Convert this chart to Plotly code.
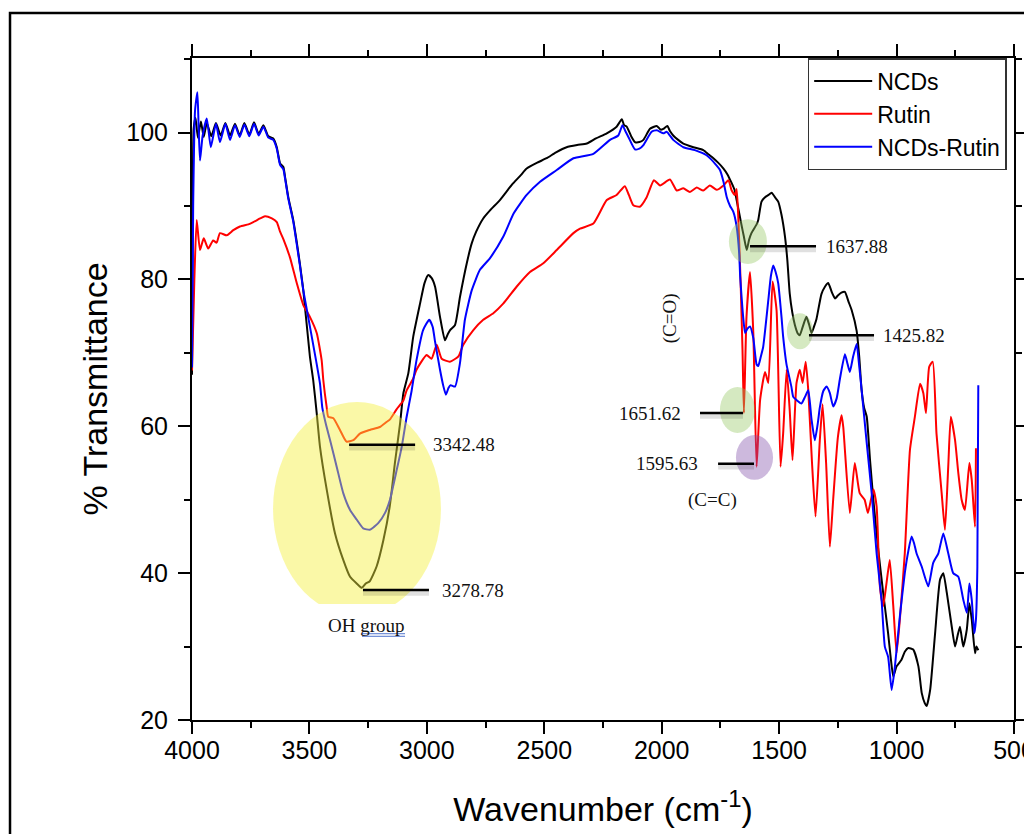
import plotly.graph_objects as go

# ---------------- data ----------------
NCDS_WN = [4000, 3997, 3993, 3985, 3975, 3962, 3950, 3937, 3918, 3898,
           3878, 3858, 3838, 3817, 3797, 3777, 3756, 3736, 3716, 3696,
           3675, 3654, 3639, 3625, 3611, 3604, 3590, 3569, 3555, 3541,
           3526, 3498, 3484, 3469, 3455, 3426, 3391, 3356, 3327, 3299,
           3277, 3260, 3243, 3214, 3185, 3158, 3136, 3114, 3100, 3079,
           3058, 3029, 3010, 2994, 2980, 2965, 2944, 2923, 2910, 2901,
           2880, 2859, 2830, 2809, 2790, 2760, 2731, 2689, 2660, 2632,
           2600, 2575, 2530, 2490, 2450, 2405, 2360, 2319, 2280, 2234,
           2192, 2170, 2160, 2149, 2130, 2114, 2095, 2078, 2050, 2021,
           2005, 1993, 1976, 1965, 1951, 1930, 1908, 1865, 1823, 1800,
           1780, 1760, 1737, 1720, 1702, 1690, 1681, 1670, 1659, 1650,
           1638, 1628, 1618, 1596, 1589, 1575, 1560, 1545, 1532, 1518,
           1504, 1490, 1475, 1465, 1455, 1444, 1433, 1420, 1412, 1400,
           1384, 1372, 1362, 1350, 1341, 1320, 1305, 1291, 1275, 1262,
           1250, 1235, 1220, 1205, 1191, 1170, 1159, 1149, 1138, 1127,
           1113, 1099, 1078, 1057, 1036, 1025, 1014, 1000, 979, 965,
           950, 929, 907, 893, 880, 872, 857, 836, 815, 801,
           786, 765, 751, 740, 730, 716, 701, 690, 680, 666,
           660, 652]
NCDS_T = [67, 90, 100.5, 102.0, 99.3, 101.5, 99.4, 101.3, 99.5, 101.3,
          99.6, 101.3, 99.6, 101.2, 99.6, 101.3, 99.7, 101.4, 99.8, 101.0,
          99.5, 99.2, 98.0, 95.8, 95.3, 94.0, 91.2, 88.1, 85.3, 82.2,
          78.5, 69.5, 66.3, 61.8, 57.2, 51.3, 45.4, 41.8, 39.5, 38.6,
          38.0, 38.6, 38.9, 40.9, 44.5, 49.1, 55.0, 60.4, 64.5, 67.2,
          72.2, 76.7, 79.5, 80.6, 80.2, 79.0, 74.9, 71.7, 72.6, 73.1,
          73.8, 77.6, 82.2, 84.9, 86.5, 88.3, 89.4, 90.8, 92.0, 93.1,
          94.2, 95.1, 95.9, 96.5, 97.3, 98.0, 98.3, 98.5, 99.2, 99.9,
          100.8, 101.8, 101.0, 100.8, 99.5, 98.7, 98.7, 99.0, 100.5, 100.9,
          100.4, 100.5, 100.9, 100.2, 99.6, 99.0, 98.5, 98.0, 97.6, 97.0,
          96.5, 95.9, 95.1, 94.3, 93.1, 92.2, 90.8, 89.0, 87.2, 85.8,
          84.0, 85.4, 86.3, 87.5, 88.1, 90.6, 91.2, 91.5, 91.8, 91.2,
          90.6, 88.8, 85.8, 82.6, 78.1, 75.5, 73.8, 72.6, 72.4, 73.5,
          74.9, 73.8, 72.7, 73.7, 74.6, 78.0, 79.0, 79.5, 78.2, 77.4,
          77.8, 78.2, 78.3, 77.0, 75.8, 73.0, 69.5, 65.0, 62.5, 61.3,
          55.4, 50.0, 43.2, 37.3, 31.8, 28.5, 25.9, 27.3, 28.2, 29.3,
          29.8, 29.6, 27.3, 23.7, 22.3, 21.9, 24.1, 31.8, 39.1, 40.0,
          37.3, 32.7, 30.0, 31.5, 32.7, 30.0, 32.3, 35.9, 33.7, 29.1,
          30.0, 29.5]

RUTIN_WN = [4000, 3990, 3980, 3966, 3950, 3931, 3910, 3895, 3881, 3852,
            3824, 3796, 3760, 3739, 3710, 3689, 3660, 3639, 3625, 3611,
            3583, 3554, 3526, 3498, 3469, 3448, 3441, 3427, 3420, 3398,
            3370, 3342, 3313, 3285, 3243, 3200, 3171, 3158, 3129, 3100,
            3086, 3058, 3044, 3001, 2980, 2958, 2937, 2902, 2866, 2845,
            2802, 2760, 2717, 2675, 2618, 2561, 2504, 2447, 2376, 2348,
            2291, 2234, 2192, 2157, 2140, 2121, 2093, 2064, 2033, 2007,
            1965, 1936, 1908, 1880, 1851, 1823, 1795, 1766, 1737, 1716,
            1702, 1688, 1681, 1674, 1664, 1656, 1650, 1639, 1624, 1610,
            1596, 1581, 1560, 1546, 1528, 1511, 1494, 1483, 1468, 1455,
            1443, 1426, 1412, 1400, 1387, 1376, 1360, 1345, 1327, 1315,
            1300, 1284, 1270, 1250, 1234, 1227, 1199, 1178, 1157, 1136,
            1122, 1099, 1085, 1071, 1057, 1043, 1029, 1014, 1000, 986,
            965, 943, 922, 900, 886, 875, 861, 846, 830, 808,
            794, 780, 769, 751, 737, 723, 709, 690, 680, 666,
            662]
RUTIN_T = [67.6, 80, 88.1, 84.0, 85.6, 84.2, 85.3, 85.0, 86.3, 86.0,
           86.7, 87.2, 87.5, 87.8, 88.3, 88.6, 88.3, 87.8, 86.5, 85.5,
           83.0, 79.5, 76.5, 74.9, 72.7, 69.0, 66.3, 62.7, 61.3, 61.1,
           59.5, 57.9, 58.1, 59.0, 59.5, 59.9, 60.6, 60.9, 62.3, 63.5,
           64.9, 66.5, 67.7, 69.7, 69.2, 71.1, 69.2, 68.8, 69.5, 71.1,
           73.1, 74.5, 75.4, 76.7, 79.0, 81.0, 82.2, 84.0, 86.3, 86.9,
           87.6, 90.8, 91.5, 92.7, 91.5, 90.1, 89.9, 91.2, 93.5, 92.8,
           93.6, 92.1, 92.4, 91.9, 92.5, 92.1, 92.8, 92.2, 92.8, 93.5,
           92.1, 91.5, 92.3, 88.5, 79.5, 70.4, 61.8, 74.9, 81.0, 72.7,
           54.5, 63.6, 67.4, 65.9, 79.7, 75.8, 54.5, 59.0, 67.7, 62.2,
           55.4, 65.9, 67.7, 65.9, 68.8, 64.9, 55.0, 47.7, 58.0, 63.0,
           55.0, 43.6, 50.0, 58.5, 61.5, 59.9, 48.2, 55.0, 50.9, 50.0,
           48.2, 51.4, 49.1, 38.2, 35.5, 38.6, 41.8, 35.5, 29.1, 33.7,
           42.7, 56.8, 61.3, 65.8, 64.5, 61.8, 68.1, 68.8, 59.0, 50.9,
           45.9, 54.5, 61.3, 58.1, 53.6, 50.0, 48.6, 55.0, 52.7, 46.3,
           57.0]

MIX_WN = [4000, 3995, 3987, 3977, 3972, 3966, 3955, 3937, 3920, 3898,
          3881, 3858, 3838, 3817, 3797, 3777, 3756, 3736, 3716, 3696,
          3675, 3654, 3639, 3625, 3611, 3604, 3590, 3569, 3555, 3541,
          3526, 3506, 3472, 3455, 3445, 3430, 3412, 3384, 3356, 3327,
          3299, 3271, 3243, 3225, 3207, 3178, 3157, 3128, 3107, 3086,
          3065, 3044, 3016, 2990, 2975, 2966, 2944, 2930, 2919, 2908,
          2899, 2880, 2859, 2838, 2809, 2774, 2731, 2675, 2630, 2575,
          2518, 2447, 2376, 2291, 2220, 2185, 2167, 2155, 2142, 2114,
          2095, 2078, 2043, 2021, 1993, 1979, 1951, 1908, 1859, 1809,
          1766, 1752, 1737, 1723, 1709, 1695, 1681, 1670, 1666, 1659,
          1652, 1645, 1635, 1624, 1610, 1596, 1589, 1578, 1568, 1546,
          1535, 1525, 1515, 1504, 1490, 1483, 1469, 1448, 1440, 1427,
          1405, 1390, 1376, 1362, 1348, 1335, 1327, 1312, 1298, 1284,
          1270, 1255, 1241, 1220, 1209, 1199, 1185, 1170, 1160, 1149,
          1127, 1106, 1085, 1064, 1050, 1036, 1021, 1007, 986, 965,
          950, 936, 925, 915, 893, 865, 844, 822, 801, 780,
          759, 737, 716, 701, 690, 680, 669, 662, 656, 652]
MIX_T = [68, 90, 103, 105.5, 101, 96.2, 99.5, 101.9, 98.0, 101.2,
         98.7, 101.2, 99.0, 101.0, 99.4, 101.1, 99.5, 101.2, 99.6, 100.8,
         99.3, 99.0, 97.8, 95.6, 95.0, 93.8, 91.0, 87.9, 85.0, 82.0,
         78.5, 75.0, 69.0, 65.8, 62.5, 60.3, 58.1, 54.5, 50.9, 48.6,
         47.3, 46.1, 45.9, 46.3, 46.8, 48.2, 50.0, 54.1, 57.2, 61.3,
         64.8, 69.0, 73.1, 74.5, 73.5, 71.7, 67.7, 65.5, 64.3, 65.2,
         65.6, 65.4, 68.6, 74.5, 78.5, 81.3, 82.9, 85.8, 89.0, 91.5,
         93.3, 94.9, 96.5, 97.1, 99.0, 99.6, 101.0, 100.2, 99.4, 97.7,
         97.8, 98.3, 100.1, 100.3, 99.9, 100.1, 99.0, 98.0, 97.6, 96.9,
         95.5, 94.9, 93.3, 91.2, 90.0, 89.2, 87.2, 83.5, 80.4, 77.2,
         74.5, 72.7, 73.3, 73.6, 72.0, 68.4, 68.2, 69.5, 70.8, 77.2,
         80.5, 81.9, 81.0, 79.5, 74.9, 72.2, 68.5, 65.4, 64.0, 63.6,
         63.1, 64.0, 64.9, 60.9, 58.1, 60.5, 62.5, 64.8, 65.4, 64.5,
         62.7, 63.8, 66.5, 69.8, 68.5, 67.4, 69.5, 71.2, 68.5, 65.0,
         57.7, 50.9, 42.7, 36.4, 30.0, 28.6, 24.1, 27.3, 34.1, 40.0,
         43.0, 45.0, 44.0, 42.7, 40.9, 38.2, 41.4, 42.7, 45.4, 42.7,
         40.0, 39.5, 36.4, 34.6, 38.6, 36.4, 31.8, 33.7, 40.9, 65.6]

SERIES_NAMES = ["NCDs", "Rutin", "NCDs-Rutin"]
SERIES_COLORS = ["#000000", "#ff0000", "#0000ff"]

X_TICKS = [4000, 3500, 3000, 2500, 2000, 1500, 1000, 500]
Y_TICKS = [20, 40, 60, 80, 100]

# peak labels: (label, line x0, line x1, line y, text x, text anchor)
PEAK_LABELS = [
    ("3342.48", 3331, 3050, 57.5, 2982, "left"),
    ("3278.78", 3272, 2991, 37.7, 2944, "left"),
    ("1637.88", 1624, 1343, 84.5, 1309, "left"),
    ("1425.82", 1373, 1096, 72.4, 1066, "left"),
    ("1651.62", 1837, 1654, 61.8, 1909, "right"),
    ("1595.63", 1760, 1607, 54.9, 1837, "right"),
]

SANS = "Liberation Sans, Arial, sans-serif"
SERIF = "Liberation Serif, Times New Roman, serif"

assert len(NCDS_WN) == len(NCDS_T)
assert len(RUTIN_WN) == len(RUTIN_T)
assert len(MIX_WN) == len(MIX_T)

fig = go.Figure()
for name, xs, ys, col in zip(SERIES_NAMES,
                             [NCDS_WN, RUTIN_WN, MIX_WN],
                             [NCDS_T, RUTIN_T, MIX_T],
                             SERIES_COLORS):
    fig.add_trace(go.Scatter(x=xs, y=ys, mode="lines", name=name,
                             line=dict(color=col, width=2, shape="spline", smoothing=0.5)))

shapes = []
# highlight ellipses (semi-transparent, drawn above the spectra)
shapes.append(dict(type="circle", xref="x", yref="y", x0=3655, x1=2940, y0=34.2, y1=63.3,
                   fillcolor="rgba(245,240,60,0.45)", line=dict(width=0), layer="above"))
shapes.append(dict(type="rect", xref="x", yref="y", x0=3470, x1=3010, y0=33.0, y1=35.8,
                   fillcolor="white", line=dict(width=0), layer="above"))
for (x0, x1, y0, y1, col) in [
    (1714, 1552, 82.1, 88.2, "rgba(150,200,100,0.4)"),
    (1467, 1356, 70.5, 75.4, "rgba(150,200,100,0.4)"),
    (1752, 1603, 59.1, 65.35, "rgba(150,200,100,0.4)"),
    (1684, 1526, 52.7, 58.8, "rgba(130,80,170,0.4)"),
]:
    shapes.append(dict(type="circle", xref="x", yref="y", x0=x0, x1=x1, y0=y0, y1=y1,
                       fillcolor=col, line=dict(width=0), layer="above"))

annotations = []
for label, lx0, lx1, ly, tx, anchor in PEAK_LABELS:
    shapes.append(dict(type="line", xref="x", yref="y", x0=lx0, x1=lx1, y0=ly - 0.45, y1=ly - 0.45,
                       line=dict(color="rgba(0,0,0,0.12)", width=5), layer="above"))
    shapes.append(dict(type="line", xref="x", yref="y", x0=lx0, x1=lx1, y0=ly, y1=ly,
                       line=dict(color="black", width=2.5), layer="above"))
    annotations.append(dict(x=tx, y=ly, xref="x", yref="y", text=label, showarrow=False,
                            xanchor=anchor, yanchor="middle",
                            font=dict(family=SERIF, size=19, color="#111")))

annotations.append(dict(x=3255, y=32.9, xref="x", yref="y", text="OH group", showarrow=False,
                        xanchor="center", yanchor="middle", font=dict(family=SERIF, size=19, color="#111")))
shapes.append(dict(type="line", xref="x", yref="y", x0=3276, x1=3093, y0=31.75, y1=31.75,
                   line=dict(color="rgba(60,100,200,0.9)", width=1), layer="above"))
shapes.append(dict(type="line", xref="x", yref="y", x0=3276, x1=3093, y0=31.4, y1=31.4,
                   line=dict(color="rgba(60,100,200,0.9)", width=1), layer="above"))
annotations.append(dict(x=1782, y=50.0, xref="x", yref="y", text="(C=C)", showarrow=False,
                        xanchor="center", yanchor="middle", font=dict(family=SERIF, size=19, color="#111")))
annotations.append(dict(x=1965, y=74.7, xref="x", yref="y", text="(C=O)", showarrow=False,
                        textangle=-90, xanchor="center", yanchor="middle",
                        font=dict(family=SERIF, size=19, color="#111")))

# outer frame of the figure
shapes.append(dict(type="rect", xref="paper", yref="paper", x0=-0.2214, x1=1.06, y0=-0.2, y1=1.0679,
                   line=dict(color="black", width=2.5), fillcolor="rgba(0,0,0,0)", layer="above"))

axis_common = dict(showline=True, linecolor="black", linewidth=2, mirror="ticks",
                   ticks="outside", ticklen=12, tickwidth=2, tickcolor="black",
                   showgrid=False, zeroline=False,
                   tickfont=dict(family=SANS, size=25, color="black"))

fig.update_layout(
    width=1032, height=834,
    margin=dict(l=184, r=26, t=50, b=122, autoexpand=False),
    paper_bgcolor="white", plot_bgcolor="white",
    xaxis=dict(range=[4000, 500], tickvals=X_TICKS, ticklabelstandoff=-5,
               minor=dict(dtick=250, tick0=500, ticks="outside", ticklen=6, tickwidth=2, tickcolor="black"),
               title=dict(text="Wavenumber (cm<sup>-1</sup>)", font=dict(family=SANS, size=34, color="black"),
                          standoff=34),
               **axis_common),
    yaxis=dict(range=[20, 110.15], tickvals=Y_TICKS, ticklabelstandoff=5,
               minor=dict(dtick=10, tick0=20, ticks="outside", ticklen=6, tickwidth=2, tickcolor="black"),
               title=dict(text="% Transmittance", font=dict(family=SANS, size=34, color="black"),
                          standoff=8),
               **axis_common),
    legend=dict(x=0.749, y=1.0, xanchor="left", yanchor="top",
                bgcolor="white", bordercolor="#333", borderwidth=1.5,
                font=dict(family=SANS, size=23, color="black"),
                itemwidth=58, tracegroupgap=0),
    shapes=shapes,
    annotations=annotations,
)

fig.write_html("out.html")
